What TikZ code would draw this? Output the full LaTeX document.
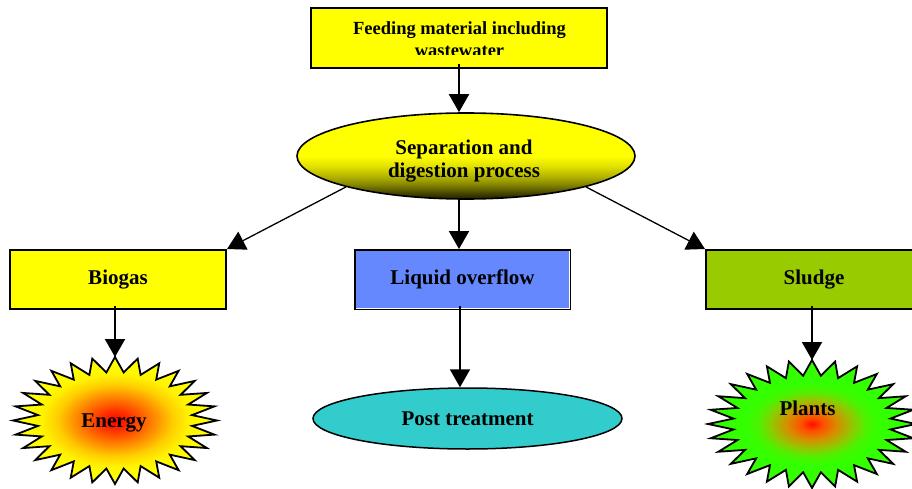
\documentclass[tikz,border=0pt]{standalone}
\usepackage{fontspec}
\setmainfont{Liberation Serif}
\usetikzlibrary{arrows.meta,shapes.geometric}
\pgfdeclareverticalshading{sepshade}{100bp}{rgb(0bp)=(0.12,0.12,0); rgb(25bp)=(0.12,0.12,0); rgb(28bp)=(0.25,0.25,0); rgb(33bp)=(0.5,0.5,0); rgb(38bp)=(0.7,0.7,0); rgb(44bp)=(0.88,0.88,0); rgb(50bp)=(1,1,0); rgb(100bp)=(1,1,0)}
\pgfdeclareradialshading{energyshade}{\pgfpoint{0bp}{0bp}}{rgb(0bp)=(1,0,0); rgb(4bp)=(1,0.2,0); rgb(9bp)=(1,0.5,0); rgb(14bp)=(1,0.8,0); rgb(18bp)=(1,0.95,0); rgb(22bp)=(1,1,0); rgb(50bp)=(1,1,0)}
\pgfdeclareradialshading{plantshade}{\pgfpoint{0bp}{0bp}}{rgb(0bp)=(1,0.05,0); rgb(2.5bp)=(1,0.3,0); rgb(6bp)=(0.85,0.55,0); rgb(10bp)=(0.55,0.8,0); rgb(13bp)=(0.3,0.95,0); rgb(16bp)=(0.2,1,0); rgb(50bp)=(0.2,1,0)}
\definecolor{boxyellow}{RGB}{255,255,0}
\definecolor{liqblue}{RGB}{102,136,255}
\definecolor{sludgegreen}{RGB}{153,204,0}
\definecolor{postcyan}{RGB}{51,204,204}
\tikzset{
 box/.style={draw=black, line width=2pt, rectangle, minimum height=59pt, inner sep=0pt, font=\fontsize{21}{23}\selectfont\bfseries},
 lbl/.style={inner sep=0pt, align=center, font=\fontsize{21}{23}\selectfont\bfseries},
 arr/.style={-{Triangle[width=20pt,length=18pt]}, line width=2pt},
 darr/.style={-{Triangle[width=20pt,length=18pt]}, line width=1.3pt},
 starpath/.style={draw=black, line width=1.8pt, line join=miter},
}
\begin{document}
\begin{tikzpicture}[x=1pt,y=-1pt]
\useasboundingbox (0,0) rectangle (912,489);
\fill[white] (0,0) rectangle (912,489);
% top box
\node[box, fill=boxyellow, minimum width=296pt, minimum height=60pt] (feed) at (459,38) {};
\begin{scope}
\clip (feed.north west) rectangle ([yshift=14.5pt]feed.south east);
\node[lbl, font=\fontsize{18.5}{22}\selectfont\bfseries] (feedtext) at (459.5,38.7) {Feeding material including\\wastewater};
\end{scope}
% separation ellipse
\node[ellipse, draw, line width=1.6pt, shade, shading=sepshade, minimum width=338pt, minimum height=86pt, inner sep=0pt] (sep) at (466,156) {};
\node[lbl] (septext) at (464,160.6) {Separation and\\digestion process};
% middle row
\node[box, fill=boxyellow, minimum width=216pt] (biogas) at (118,279.5) {Biogas};
\node[box, fill=liqblue, minimum width=215pt] (liquid) at (462.5,279.5) {Liquid overflow};
\draw[white, line width=1pt] ([xshift=-2pt,yshift=-2pt]liquid.north east) -- ([xshift=-2pt,yshift=2pt]liquid.south east) -- ([xshift=2pt,yshift=2pt]liquid.south west);
\node[box, fill=sludgegreen, minimum width=216pt] (sludge) at (814,279.5) {Sludge};
% post treatment
\node[ellipse, draw, line width=1.5pt, fill=postcyan, minimum width=309pt, minimum height=61pt, inner sep=0pt, font=\fontsize{21}{23}\selectfont\bfseries] (post) at (467.5,418.5) {Post treatment};
% energy star
\draw[starpath, shade, shading=energyshade] plot[samples at={0,...,56}, variable=\k] ({115+ifthenelse(iseven(\k),102,77.5)*cos(90+\k*6.4285714)}, {420.5-ifthenelse(iseven(\k),63.5,48.3)*sin(90+\k*6.4285714)}) -- cycle;
\coordinate (energytop) at (115,357);
\node[lbl] (energy) at (114,423.4) {Energy};
% plants star
\draw[starpath, shade, shading=plantshade] plot[samples at={0,...,56}, variable=\k] ({812+ifthenelse(iseven(\k),104,79)*cos(90+\k*6.4285714)}, {424-ifthenelse(iseven(\k),64,48.6)*sin(90+\k*6.4285714)}) -- cycle;
\coordinate (plantstop) at (812,360);
\node[lbl] (plants) at (807.5,408.5) {Plants};
% connectors
\draw[arr] ([yshift=5pt]feed.south) -- (feed.south |- sep.north);
\draw[arr] ([xshift=-3.5pt]liquid.north |- sep.south) -- ([xshift=-3.5pt]liquid.north);
\draw[darr] (sep.south west) -- (biogas.north east);
\draw[darr] (sep.south east) -- (sludge.north west);
\draw[arr] ([yshift=4pt]biogas.south -| energytop) -- (energytop);
\draw[arr] ([xshift=-2.5pt,yshift=4pt]liquid.south) -- ([xshift=-2.5pt]liquid.south |- post.north);
\draw[arr] ([yshift=4pt]sludge.south -| plantstop) -- (plantstop);
\end{tikzpicture}
\end{document}
